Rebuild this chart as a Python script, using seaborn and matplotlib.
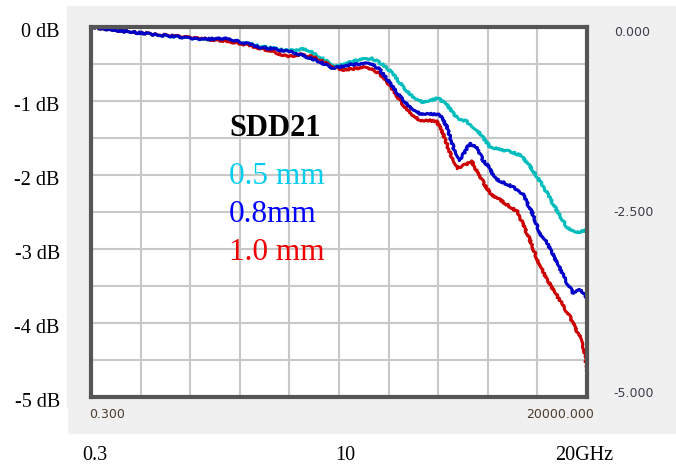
"""
SDD21 insertion loss for three trace spacings, redrawn from a VNA screenshot.
"""

import matplotlib
matplotlib.use("Agg")
import pandas as pd
import matplotlib.pyplot as plt
from matplotlib.patches import Rectangle
import seaborn as sns

# Frequency (GHz) and SDD21 (dB)
freq_05 = [0, 1.9, 4.4, 5.9, 7.0, 8.0, 8.45, 8.75, 9.3, 9.85, 10.3, 10.73, 11.33, 11.77,
           12.18, 12.58, 12.98, 13.35, 13.67, 13.99, 14.35, 14.76, 15.16, 15.56, 16.09,
           16.5, 17.0, 17.4, 17.8, 18.25, 18.8, 19.2, 19.6, 20.0]
db_05 = [0, -0.08, -0.16, -0.20, -0.27, -0.32, -0.30, -0.31, -0.42, -0.54, -0.49, -0.45,
         -0.42, -0.51, -0.63, -0.81, -0.94, -1.01, -0.99, -0.96, -1.05, -1.23, -1.28,
         -1.39, -1.62, -1.66, -1.69, -1.75, -1.93, -2.16, -2.49, -2.71, -2.78, -2.74]

freq_08 = [0, 1.9, 4.4, 5.5, 6.0, 6.8, 7.6, 8.0, 8.4, 9.1, 9.75, 10.45, 10.97, 11.33,
           11.65, 12.06, 12.46, 12.86, 13.27, 13.67, 14.07, 14.35, 14.6, 14.88, 15.28,
           15.56, 15.81, 16.09, 16.3, 17.0, 17.4, 17.8, 18.1, 18.4, 18.8, 19.2, 19.45,
           19.7, 19.9, 20.0]
db_08 = [0, -0.08, -0.16, -0.16, -0.20, -0.27, -0.31, -0.33, -0.37, -0.45, -0.56, -0.51,
         -0.50, -0.49, -0.58, -0.76, -0.94, -1.08, -1.17, -1.17, -1.19, -1.35, -1.62,
         -1.80, -1.57, -1.64, -1.80, -1.91, -2.05, -2.16, -2.25, -2.52, -2.79, -2.92,
         -3.19, -3.46, -3.60, -3.55, -3.60, -3.76]

freq_10 = [0, 1.9, 4.4, 6.0, 7.1, 7.75, 8.0, 8.4, 8.95, 9.75, 10.15, 10.97, 11.33, 11.77,
           12.18, 12.58, 12.98, 13.27, 13.67, 13.95, 14.19, 14.48, 14.8, 15.16, 15.36,
           15.6, 16.1, 16.6, 17.2, 17.7, 18.0, 18.4, 18.9, 19.3, 19.7, 19.9, 20.0]
db_10 = [0, -0.08, -0.15, -0.22, -0.31, -0.38, -0.40, -0.37, -0.40, -0.54, -0.58, -0.55,
         -0.56, -0.67, -0.85, -1.05, -1.19, -1.26, -1.26, -1.28, -1.44, -1.71, -1.91,
         -1.85, -1.82, -1.98, -2.25, -2.36, -2.50, -2.88, -3.15, -3.42, -3.69, -3.91,
         -4.18, -4.40, -4.64]

trace_names = ['0.5 mm', '0.8mm', '1.0 mm']
line_colors = {'0.5 mm': '#00bcbc', '0.8mm': '#0000c8', '1.0 mm': '#cc0000'}
text_colors = {'0.5 mm': '#00ccee', '0.8mm': '#0000ff', '1.0 mm': '#ee0000'}

left_labels = ['0 dB', '-1 dB', '-2 dB', '-3 dB', '-4 dB', '-5 dB']
right_labels = ['0.000', '-2.500', '-5.000']

df = pd.concat([
    pd.DataFrame({'freq': freq_05, 'db': db_05, 'trace': '0.5 mm'}),
    pd.DataFrame({'freq': freq_08, 'db': db_08, 'trace': '0.8mm'}),
    pd.DataFrame({'freq': freq_10, 'db': db_10, 'trace': '1.0 mm'}),
])

sns.set_style("white")

W, H = 676, 466
fig = plt.figure(figsize=(W / 100, H / 100), dpi=100)
fig.patch.set_facecolor('white')

# light gray instrument panel behind the plot
fig.patches.append(Rectangle((67 / W, 1 - 433 / H), 1 - 67 / W, 427 / H,
                             transform=fig.transFigure, color='#f0f0f0', zorder=0))

ax = fig.add_axes([91 / W, 1 - 397 / H, 496 / W, 370 / H])
ax.set_zorder(2)
ax.set_facecolor('white')

sns.lineplot(data=df, x='freq', y='db', hue='trace', hue_order=['0.5 mm', '1.0 mm', '0.8mm'],
             palette=line_colors, sort=False, estimator=None, linewidth=2.2,
             legend=False, ax=ax)
# VNA traces are a bit ragged
for ln in ax.get_lines():
    ln.set_sketch_params(scale=0.9, length=3, randomness=16)

ax.set_xlim(0, 20)
ax.set_ylim(-5, 0)
ax.set_xticks([i * 2 for i in range(11)])
ax.set_yticks([-i * 0.5 for i in range(11)])
ax.set_xticklabels([])
ax.set_yticklabels([])
ax.tick_params(length=0)
ax.set_xlabel('')
ax.set_ylabel('')
ax.grid(True, color='#c8c8c8', linewidth=1.5)
ax.set_axisbelow(True)
for sp in ax.spines.values():
    sp.set_color('#555555')
    sp.set_linewidth(3)
    sp.set_zorder(5)

serif = 'Liberation Serif'

# left dB labels
for i, lab in enumerate(left_labels):
    ax.text(-0.063, -i - 0.08, lab, transform=ax.get_yaxis_transform(),
            ha='right', va='center', fontsize=14.5, family=serif, color='black')
# the screenshot crop cuts through the last label
fig.patches.append(Rectangle((0, 0), 67 / W, 1 - 406.5 / H, transform=fig.transFigure,
                             color='white', zorder=10))

# right scale labels
for lab, yv in zip(right_labels, [-0.08, -2.51, -4.95]):
    ax.text(1.054, yv, lab, transform=ax.get_yaxis_transform(), ha='left', va='center',
            fontsize=9, color='#3c3c4a', family='DejaVu Sans')

# start / stop frequency of the sweep
fig.text(89 / W, 1 - 414 / H, '0.300', ha='left', va='center', fontsize=9,
         color='#4a3c2c', family='DejaVu Sans')
fig.text(594 / W, 1 - 414 / H, '20000.000', ha='right', va='center', fontsize=9,
         color='#4a3c2c', family='DejaVu Sans')

# frequency labels under the screenshot
for lab, xp in zip(['0.3', '10', '20GHz'], [95, 345, 584]):
    fig.text(xp / W, 1 - 455 / H, lab, ha='center', va='center', fontsize=14.5,
             family=serif, color='black')

# in-plot title and legend text
fig.text(229 / W, 1 - 128 / H, 'SDD21', ha='left', va='center', fontsize=22,
         fontweight='bold', family=serif, color='black', zorder=3)
for name, yp in zip(trace_names, [177, 215, 252]):
    fig.text(229 / W, 1 - yp / H, name, ha='left', va='center', fontsize=22.5,
             family=serif, color=text_colors[name], zorder=3)

plt.savefig('out.png', dpi=100)
